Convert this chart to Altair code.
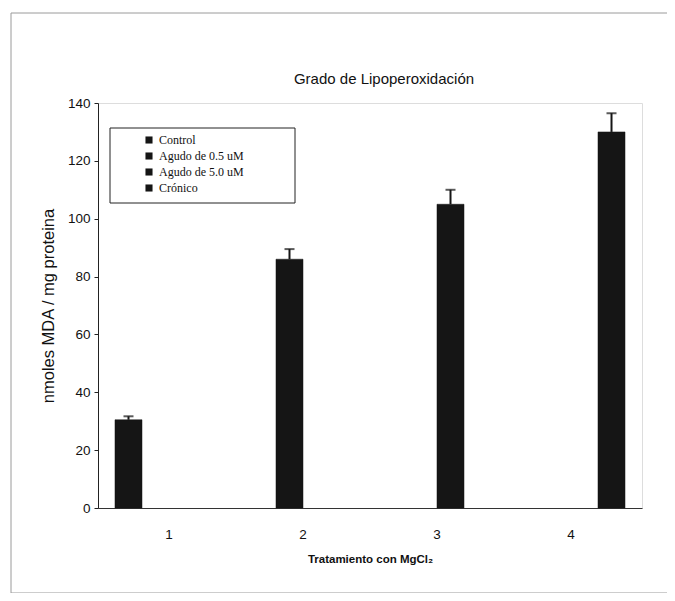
import altair as alt
import pandas as pd

categories = ["1", "2", "3", "4"]
series = ["Control", "Agudo de 0.5 uM", "Agudo de 5.0 uM", "Crónico"]
values = [30.5, 86.0, 105.0, 130.0]
errors = [1.2, 3.5, 5.0, 6.5]
title_text = "Grado de Lipoperoxidación"

df = pd.DataFrame({
    "cat": categories,
    "series": series,
    "value": values,
    "upper": [v + e for v, e in zip(values, errors)],
})

BAR = "#151515"
W, H = 544, 405

x_enc = alt.X("cat:N", sort=categories,
              scale=alt.Scale(paddingInner=0, paddingOuter=0.03),
              axis=alt.Axis(title="Tratamiento con MgCl₂", labelAngle=0, ticks=False,
                            labelPadding=19, labelFontSize=13.5, labelFont="Liberation Sans",
                            titleFont="Liberation Sans", titleFontSize=11.5, titleFontWeight="bold",
                            titlePadding=13, domainColor="#333", domainWidth=1, labelColor="#111",
                            titleColor="#111"))
xo_enc = alt.XOffset("series:N", sort=series,
                     scale=alt.Scale(domain=series, paddingInner=0, paddingOuter=0.48))

base = alt.Chart(df)

bars = base.mark_bar(stroke=BAR, strokeWidth=0.5).encode(
    x=x_enc,
    xOffset=xo_enc,
    y=alt.Y("value:Q", scale=alt.Scale(domain=[0, 140], nice=False),
            axis=alt.Axis(title="nmoles MDA / mg proteina", values=list(range(0, 141, 20)),
                          grid=False, tickSize=4, labelFontSize=13.5, labelFont="Liberation Sans",
                          titleFont="Liberation Sans", titleFontSize=16.5, titleFontWeight="normal",
                          titlePadding=11, domainColor="#222", tickColor="#222",
                          labelColor="#111", titleColor="#111", labelPadding=4)),
    color=alt.Color("series:N", sort=series,
                    scale=alt.Scale(domain=series, range=[BAR, BAR, BAR, BAR]),
                    legend=alt.Legend(title=None, orient="none", legendX=45, legendY=31,
                                      symbolType="square", symbolSize=50, symbolStrokeWidth=0,
                                      labelFont="Liberation Serif", labelFontSize=12,
                                      labelColor="#111", rowPadding=4, padding=0)),
)

err = base.mark_rule(color=BAR, strokeWidth=2).encode(
    x=alt.X("cat:N", sort=categories), xOffset=alt.XOffset("series:N", sort=series),
    y="value:Q", y2="upper:Q",
)
cap = base.mark_tick(color=BAR, size=10, thickness=2, orient="horizontal").encode(
    x=alt.X("cat:N", sort=categories), xOffset=alt.XOffset("series:N", sort=series),
    y="upper:Q",
)

one = pd.DataFrame({"k": [0]})
legend_box = alt.Chart(one).mark_rect(fill=None, stroke="#222", strokeWidth=1).encode(
    x=alt.value(12), x2=alt.value(197), y=alt.value(25), y2=alt.value(100))
frame = alt.Chart(one).mark_rect(fill=None, stroke="#9a9a9a", strokeWidth=1).encode(
    x=alt.value(-87), x2=alt.value(600), y=alt.value(-90), y2=alt.value(490))
title = alt.Chart(one).mark_text(font="Liberation Sans", fontSize=15, color="#111",
                                 align="center", baseline="middle").encode(
    x=alt.value(286), y=alt.value(-24), text=alt.value(title_text))

chart = alt.layer(frame, bars, err, cap, legend_box, title).properties(
    width=W, height=H,
    padding={"left": 90, "top": 95, "right": 25, "bottom": 85},
    autosize=alt.AutoSizeParams(type="none"),
).configure_view(stroke=None).configure(background="white")

chart.save("out.html", embed_options={"renderer": "svg", "actions": False})
